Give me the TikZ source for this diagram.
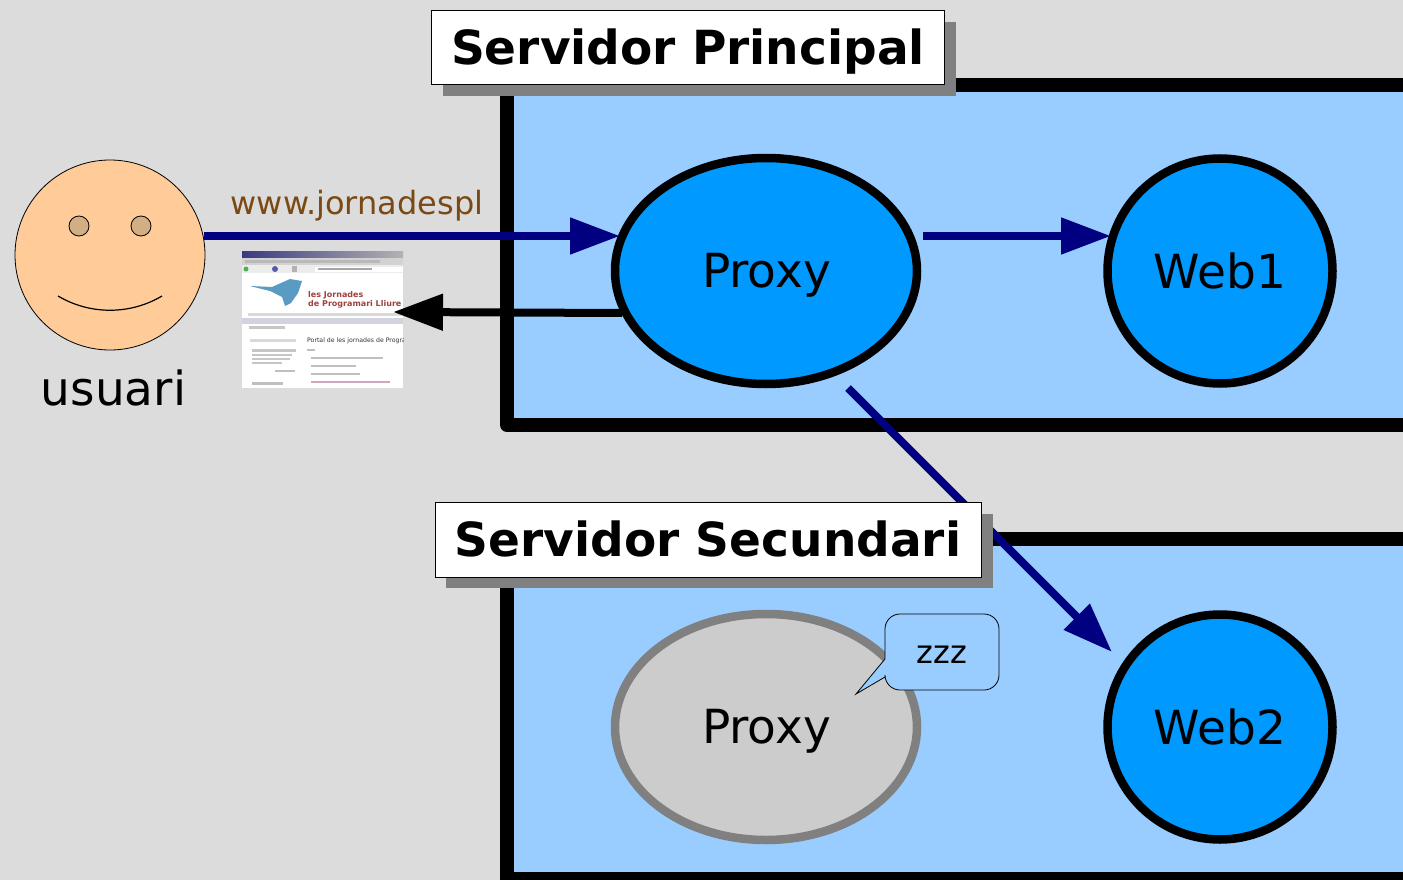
\documentclass[tikz,border=0pt]{standalone}
\usepackage{fontspec}
\setmainfont{DejaVu Sans}
\usetikzlibrary{arrows.meta,shapes.geometric}
\definecolor{bgc}{HTML}{DCDCDC}
\definecolor{boxc}{HTML}{99CCFF}
\definecolor{nodec}{HTML}{0099FF}
\definecolor{navyc}{HTML}{000080}
\definecolor{skin}{HTML}{FFCC99}
\definecolor{eyec}{HTML}{D2AE85}
\definecolor{urlc}{HTML}{7B4A14}
\definecolor{sleepc}{HTML}{CCCCCC}
\definecolor{shadowc}{HTML}{808080}
\tikzset{
 serverbox/.style={draw=black,line width=14pt,fill=boxc,line join=round},
 titlebox/.style={draw=black,line width=.8pt,fill=white,inner sep=0pt,outer sep=0pt},
 titleshadow/.style={fill=shadowc,draw=none},
 titletext/.style={inner sep=0pt,font=\fontsize{47}{47}\selectfont\bfseries},
 bigtext/.style={inner sep=0pt,font=\fontsize{47}{47}\selectfont},
 actnode/.style={ellipse,draw=black,line width=8.5pt,fill=nodec,inner sep=0pt,outer sep=0pt},
 idlenode/.style={ellipse,draw=shadowc,line width=8.5pt,fill=sleepc,inner sep=0pt,outer sep=0pt},
 flow/.style={draw=navyc,line width=8pt,-{Triangle[length=50pt,width=35pt,fill=navyc]}},
 backflow/.style={draw=black,line width=8pt,-{Triangle[length=50pt,width=35pt,fill=black]}},
 eye/.style={circle,draw=black,line width=.8pt,fill=eyec,minimum size=20pt,inner sep=0pt},
}
\begin{document}
\begin{tikzpicture}[x=1pt,y=-1pt]
\useasboundingbox (0,0) rectangle (1403,880);
\fill[bgc] (0,0) rectangle (1403,880);
% server boxes
\begin{scope}
\clip (0,0) rectangle (1403,880);
\draw[serverbox] (1450,85) -- (507,85) -- (507,425) -- (1450,425);
\draw[serverbox] (1450,539) -- (507,539) -- (507,879) -- (1450,879);
\end{scope}
% nodes
\node[actnode,minimum width=302pt,minimum height=226pt] (proxy1) at (766,271) {};
\node[actnode,minimum width=225pt,minimum height=225pt] (web1) at (1220,271) {};
\node[idlenode,minimum width=302pt,minimum height=226pt] (proxy2) at (766,727) {};
\node[actnode,minimum width=225pt,minimum height=225pt] (web2) at (1220,727) {};
\node[bigtext] (lp1) at (766.5,277.5) {\strut Proxy};
\node[bigtext] (lw1) at (1220,277.5) {\strut Web1};
\node[bigtext] (lp2) at (766.5,733.5) {\strut Proxy};
\node[bigtext] (lw2) at (1220,733.5) {\strut Web2};
% user
\node[circle,draw=black,line width=.8pt,fill=skin,minimum size=190pt,inner sep=0pt] (face) at (110,255) {};
\node[eye] (eyeL) at (79,226) {};
\node[eye] (eyeR) at (141,226) {};
\draw[line width=1.2pt] (58,296) .. controls (90,315) and (130,315) .. (162,296);
\node[bigtext] (usuari) at (113.5,388) {usuari};
\node[font=\fontsize{32}{32}\selectfont,text=urlc,inner sep=0pt] (url) at (357,206) {www.jornadespl};
% screenshot
\begin{scope}
\clip (242,251) rectangle (403,388);
\fill[white] (242,251) rectangle (403,388);
\shade[left color=navyc!55!gray,right color=gray!60] (242,251) rectangle (403,258);
\fill[gray!35] (242,258) rectangle (403,265);
\fill[gray!55] (245,260) rectangle (380,263);
\fill[gray!15] (242,265) rectangle (403,273);
\fill[green!40!gray] (246,269) circle (2.5pt);
\fill[blue!30!gray] (275,269) circle (3pt);
\fill[gray!60] (292,266) rectangle (297,272);
\fill[white] (315,266.5) rectangle (403,271.5);
\fill[gray!70] (318,268) rectangle (372,270);
\fill[black!60!blue!60!cyan,opacity=.65] (250,286) -- (272,287) -- (290,279) -- (302,281) -- (298,293) -- (291,303) -- (285,306) -- (282,297) -- (270,291) -- cycle;
\node[font=\fontsize{8}{8}\selectfont\bfseries,text=red!50!black,opacity=.75,anchor=west,inner sep=0pt] (shot1) at (308,295) {les Jornades};
\node[font=\fontsize{8}{8}\selectfont\bfseries,text=red!50!black,opacity=.75,anchor=west,inner sep=0pt] (shot2) at (308,304) {de Programari Lliure};
\fill[gray!30] (248,313) rectangle (403,316);
\fill[blue!15!gray!30] (242,318) rectangle (403,324);
\fill[gray!45] (249,326) rectangle (285,329);
\fill[gray!30] (250,339) rectangle (296,342);
\node[font=\fontsize{6.2}{6.2}\selectfont,text=black!80,anchor=west,inner sep=0pt] (shot3) at (307,341) {Portal de les jornades de Programari};
\fill[gray!45] (252,349) rectangle (296,352);
\fill[gray!45] (252,354) rectangle (292,356);
\fill[gray!45] (252,358) rectangle (290,360);
\fill[gray!45] (252,362) rectangle (282,364);
\fill[gray!50] (275,370) rectangle (295,372);
\fill[gray!50] (252,382) rectangle (283,385);
\fill[gray!50] (307,349) rectangle (315,351);
\fill[gray!50] (311,357) rectangle (383,359);
\fill[gray!50] (311,365) rectangle (356,367);
\fill[gray!50] (311,373) rectangle (360,375);
\fill[magenta!40!gray!60] (311,381) rectangle (390,383);
\end{scope}
% connectors
\coordinate (a1s) at (204,236);
\coordinate (a1e) at (620,236);
\coordinate (a2s) at (923,236);
\coordinate (a2e) at (1111,236);
\coordinate (a3s) at (622,313);
\coordinate (a3e) at (393,312);
\coordinate (a4s) at (848,388);
\coordinate (a4e) at (1112,652);
\draw[flow] (a1s) -- (a1e);
\draw[flow] (a2s) -- (a2e);
\draw[backflow] (a3s) -- (a3e);
\draw[flow] (a4s) -- (a4e);
% speech bubble
\draw[line width=.8pt,fill=boxc] (885,659) -- (856,694) -- (885,677)
 [rounded corners=15pt] -- (885,690) -- (999,690) -- (999,614) -- (885,614) [sharp corners] -- (885,659) -- cycle;
\node[font=\fontsize{32}{32}\selectfont,inner sep=0pt] (zzz) at (942,655) {zzz};
% titles
\fill[titleshadow] (443,22) rectangle (956,96);
\node[titlebox,minimum width=513pt,minimum height=74pt] (t1) at (687.5,47) {};
\node[titletext] (t1l) at (688,53.5) {\strut Servidor Principal};
\fill[titleshadow] (446,514) rectangle (993,588);
\node[titlebox,minimum width=546pt,minimum height=75pt] (t2) at (708,539.5) {};
\node[titletext] (t2l) at (708,545.5) {\strut Servidor Secundari};
\end{tikzpicture}
\end{document}
